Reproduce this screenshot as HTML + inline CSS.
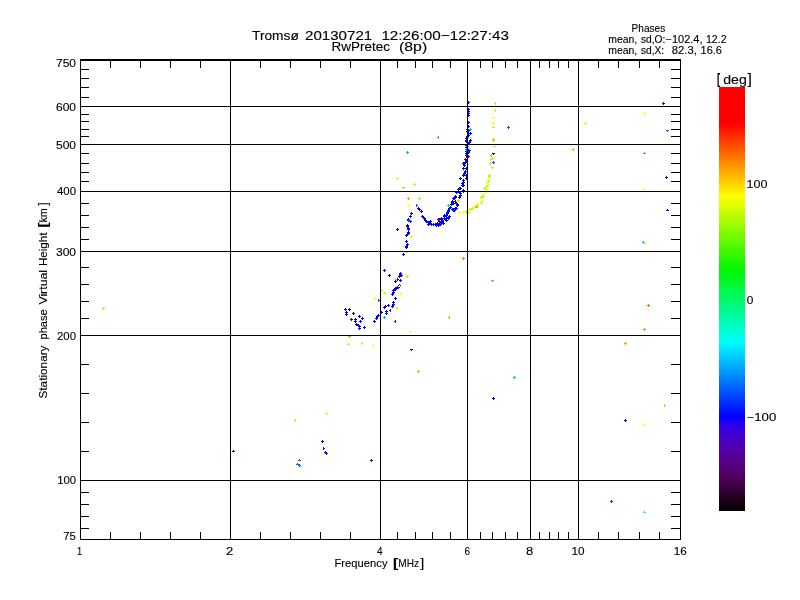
<!DOCTYPE html>
<html><head><meta charset="utf-8"><title>Tromsø stationary phase plot</title>
<style>html,body{margin:0;padding:0;background:#fff;}body{width:800px;height:600px;overflow:hidden;}svg{display:block;will-change:transform;}text{font-family:"Liberation Sans","DejaVu Sans",sans-serif;fill:#000;stroke:#000;stroke-width:0.12px;}</style></head><body>
<svg width="800" height="600" viewBox="0 0 800 600">
<rect x="0" y="0" width="800" height="600" fill="#ffffff"/>
<g>
<text x="252.00" y="40.00" font-size="12.6" textLength="46.81" lengthAdjust="spacingAndGlyphs">Tromsø</text>
<text x="305.00" y="40.00" font-size="12.6" textLength="67.24" lengthAdjust="spacingAndGlyphs">20130721</text>
<text x="381.40" y="40.00" font-size="12.6" textLength="127.65" lengthAdjust="spacingAndGlyphs">12:26:00−12:27:43</text>
<text x="331.60" y="51.40" font-size="12.6" textLength="58.45" lengthAdjust="spacingAndGlyphs">RwPretec</text>
<text x="399.00" y="51.40" font-size="12.6" textLength="28.17" lengthAdjust="spacingAndGlyphs">(8p)</text>
<text x="631.55" y="32.30" font-size="10.2" textLength="33.68" lengthAdjust="spacingAndGlyphs">Phases</text>
<text x="608.25" y="42.70" font-size="10.2" textLength="29.04" lengthAdjust="spacingAndGlyphs">mean,</text>
<text x="640.95" y="42.70" font-size="10.2" textLength="24.42" lengthAdjust="spacingAndGlyphs">sd,O:</text>
<text x="665.45" y="42.70" font-size="10.2" textLength="37.12" lengthAdjust="spacingAndGlyphs">−102.4,</text>
<text x="706.00" y="42.70" font-size="10.2" textLength="20.50" lengthAdjust="spacingAndGlyphs">12.2</text>
<text x="608.25" y="53.50" font-size="10.2" textLength="29.04" lengthAdjust="spacingAndGlyphs">mean,</text>
<text x="640.95" y="53.50" font-size="10.2" textLength="23.17" lengthAdjust="spacingAndGlyphs">sd,X:</text>
<text x="671.80" y="53.50" font-size="10.2" textLength="25.00" lengthAdjust="spacingAndGlyphs">82.3,</text>
<text x="700.55" y="53.50" font-size="10.2" textLength="21.40" lengthAdjust="spacingAndGlyphs">16.6</text>
<text x="717.00" y="84.40" font-size="15.3" textLength="3.18" lengthAdjust="spacingAndGlyphs" font-weight="bold">[</text>
<text x="723.25" y="84.40" font-size="12.6" textLength="23.58" lengthAdjust="spacingAndGlyphs">deg</text>
<text x="747.50" y="84.40" font-size="15.3" textLength="4.37" lengthAdjust="spacingAndGlyphs">]</text>
<text x="56.00" y="67.00" font-size="10.8" textLength="20.06" lengthAdjust="spacingAndGlyphs">750</text>
<text x="56.00" y="111.00" font-size="10.8" textLength="20.06" lengthAdjust="spacingAndGlyphs">600</text>
<text x="56.00" y="149.00" font-size="10.8" textLength="20.06" lengthAdjust="spacingAndGlyphs">500</text>
<text x="57.00" y="195.00" font-size="10.8" textLength="19.00" lengthAdjust="spacingAndGlyphs">400</text>
<text x="56.00" y="255.50" font-size="10.8" textLength="20.06" lengthAdjust="spacingAndGlyphs">300</text>
<text x="57.00" y="340.00" font-size="10.8" textLength="19.00" lengthAdjust="spacingAndGlyphs">200</text>
<text x="57.20" y="484.00" font-size="10.8" textLength="18.87" lengthAdjust="spacingAndGlyphs">100</text>
<text x="63.25" y="540.00" font-size="10.8" textLength="12.61" lengthAdjust="spacingAndGlyphs">75</text>
<text x="77.00" y="555.00" font-size="10.8" textLength="5.15" lengthAdjust="spacingAndGlyphs">1</text>
<text x="226.00" y="555.00" font-size="10.8" textLength="7.27" lengthAdjust="spacingAndGlyphs">2</text>
<text x="377.00" y="555.00" font-size="10.8" textLength="5.55" lengthAdjust="spacingAndGlyphs">4</text>
<text x="464.50" y="555.00" font-size="10.8" textLength="5.55" lengthAdjust="spacingAndGlyphs">6</text>
<text x="526.00" y="555.00" font-size="10.8" textLength="7.27" lengthAdjust="spacingAndGlyphs">8</text>
<text x="571.50" y="555.00" font-size="10.8" textLength="13.09" lengthAdjust="spacingAndGlyphs">10</text>
<text x="673.75" y="555.00" font-size="10.8" textLength="13.09" lengthAdjust="spacingAndGlyphs">16</text>
<text x="334.50" y="567.00" font-size="10.8" textLength="53.02" lengthAdjust="spacingAndGlyphs">Frequency</text>
<text x="393.00" y="567.30" font-size="12.7" textLength="5.33" lengthAdjust="spacingAndGlyphs" font-weight="bold">[</text>
<text x="398.30" y="567.00" font-size="10.8" textLength="20.74" lengthAdjust="spacingAndGlyphs">MHz</text>
<text x="420.30" y="567.30" font-size="12.7" textLength="3.99" lengthAdjust="spacingAndGlyphs">]</text>
<text x="746.55" y="188.00" font-size="10.8" textLength="20.86" lengthAdjust="spacingAndGlyphs">100</text>
<text x="746.70" y="304.00" font-size="10.8" textLength="6.62" lengthAdjust="spacingAndGlyphs">0</text>
<text x="746.55" y="421.00" font-size="10.8" textLength="29.79" lengthAdjust="spacingAndGlyphs">−100</text>
<text transform="translate(47.00,398.50) rotate(-90)" font-size="10.8" textLength="53.01" lengthAdjust="spacingAndGlyphs">Stationary</text>
<text transform="translate(47.00,339.50) rotate(-90)" font-size="10.8" textLength="30.16" lengthAdjust="spacingAndGlyphs">phase</text>
<text transform="translate(47.00,304.60) rotate(-90)" font-size="10.8" textLength="34.67" lengthAdjust="spacingAndGlyphs">Virtual</text>
<text transform="translate(47.00,266.00) rotate(-90)" font-size="10.8" textLength="33.46" lengthAdjust="spacingAndGlyphs">Height</text>
<text transform="translate(47.30,227.50) rotate(-90)" font-size="12.7" textLength="4.83" lengthAdjust="spacingAndGlyphs" font-weight="bold">[</text>
<text transform="translate(47.00,222.50) rotate(-90)" font-size="10.8" textLength="14.30" lengthAdjust="spacingAndGlyphs">km</text>
<text transform="translate(47.30,205.50) rotate(-90)" font-size="12.7" textLength="3.00" lengthAdjust="spacingAndGlyphs">]</text>
</g>
<defs><linearGradient id="cb" x1="0" y1="87" x2="0" y2="511" gradientUnits="userSpaceOnUse">
<stop offset="0.0000" stop-color="rgb(255,0,0)"/>
<stop offset="0.0849" stop-color="rgb(255,0,0)"/>
<stop offset="0.1722" stop-color="rgb(255,128,0)"/>
<stop offset="0.2583" stop-color="rgb(255,255,0)"/>
<stop offset="0.4316" stop-color="rgb(0,246,0)"/>
<stop offset="0.6014" stop-color="rgb(0,255,255)"/>
<stop offset="0.7771" stop-color="rgb(0,0,255)"/>
<stop offset="0.7965" stop-color="rgb(43,0,236)"/>
<stop offset="0.8231" stop-color="rgb(68,0,204)"/>
<stop offset="0.8514" stop-color="rgb(83,0,173)"/>
<stop offset="0.8821" stop-color="rgb(87,0,136)"/>
<stop offset="0.9139" stop-color="rgb(80,0,100)"/>
<stop offset="0.9410" stop-color="rgb(64,0,68)"/>
<stop offset="0.9686" stop-color="rgb(36,0,32)"/>
<stop offset="1.0000" stop-color="rgb(0,0,0)"/>
</linearGradient></defs>
<rect x="719" y="87" width="26" height="424" fill="url(#cb)" shape-rendering="crispEdges"/>
<g shape-rendering="crispEdges">
<path d="M102 308h3v1h-3zM103 307h1v3h-1z" fill="#96ff00"/>
<path d="M233 450h1v1h-1zM232 451h3v1h-3z" fill="#0000ff"/>
<path d="M294 420h1v1h-1zM295 419h1v3h-1z" fill="#ffdc00"/>
<path d="M325 413h3v1h-3zM326 414h1v1h-1z" fill="#c8ff00"/>
<path d="M321 441h3v1h-3zM322 440h1v3h-1z" fill="#0000ff"/>
<path d="M323 447h1v3h-1zM324 448h1v1h-1z" fill="#3c00dc"/>
<path d="M324 452h3v1h-3zM325 451h1v3h-1z" fill="#3c00dc"/>
<path d="M325 453h3v1h-3zM326 452h1v3h-1z" fill="#3c00dc"/>
<path d="M370 460h3v1h-3zM371 459h1v3h-1z" fill="#5000c8"/>
<path d="M299 459h1v1h-1zM298 460h3v1h-3z" fill="#0064ff"/>
<path d="M297 463h1v1h-1zM296 464h3v1h-3z" fill="#0064ff"/>
<path d="M298 465h3v1h-3zM299 464h1v3h-1z" fill="#0064ff"/>
<path d="M344 309h3v1h-3zM345 308h1v3h-1z" fill="#0000ff"/>
<path d="M348 309h3v1h-3zM349 308h1v3h-1z" fill="#0000ff"/>
<path d="M345 312h3v1h-3zM346 311h1v3h-1z" fill="#0000ff"/>
<path d="M345 314h3v1h-3zM346 313h1v3h-1z" fill="#0000ff"/>
<path d="M352 313h3v1h-3zM353 312h1v3h-1z" fill="#0000ff"/>
<path d="M358 316h3v1h-3zM359 315h1v3h-1z" fill="#0000ff"/>
<path d="M361 318h3v1h-3zM362 317h1v3h-1z" fill="#0000ff"/>
<path d="M350 319h3v1h-3zM351 318h1v3h-1z" fill="#0000ff"/>
<path d="M354 319h3v1h-3zM355 318h1v3h-1z" fill="#0000ff"/>
<path d="M354 321h3v1h-3zM355 320h1v3h-1z" fill="#0000ff"/>
<path d="M359 321h3v1h-3zM360 320h1v3h-1z" fill="#0000ff"/>
<path d="M355 324h3v1h-3zM356 323h1v3h-1z" fill="#0000ff"/>
<path d="M357 325h3v1h-3zM358 324h1v3h-1z" fill="#0000ff"/>
<path d="M358 326h3v1h-3zM359 325h1v3h-1z" fill="#0000ff"/>
<path d="M358 328h3v1h-3zM359 327h1v3h-1z" fill="#0000ff"/>
<path d="M363 327h3v1h-3zM364 326h1v3h-1z" fill="#0000ff"/>
<path d="M373 321h3v1h-3zM374 320h1v3h-1z" fill="#0000ff"/>
<path d="M375 318h3v1h-3zM376 317h1v3h-1z" fill="#0000ff"/>
<path d="M376 316h3v1h-3zM377 315h1v3h-1z" fill="#0000ff"/>
<path d="M377 315h3v1h-3zM378 314h1v3h-1z" fill="#0000ff"/>
<path d="M380 312h3v1h-3zM381 311h1v3h-1z" fill="#0000ff"/>
<path d="M383 307h3v1h-3zM384 306h1v3h-1z" fill="#0000ff"/>
<path d="M384 306h3v1h-3zM385 305h1v3h-1z" fill="#0000ff"/>
<path d="M387 305h3v1h-3zM388 304h1v3h-1z" fill="#0000ff"/>
<path d="M385 311h3v1h-3zM386 310h1v3h-1z" fill="#0000ff"/>
<path d="M385 313h3v1h-3zM386 312h1v3h-1z" fill="#0000ff"/>
<path d="M392 302h3v1h-3zM393 301h1v3h-1z" fill="#0000ff"/>
<path d="M392 304h3v1h-3zM393 303h1v3h-1z" fill="#0000ff"/>
<path d="M391 306h3v1h-3zM392 305h1v3h-1z" fill="#0000ff"/>
<path d="M394 298h3v1h-3zM395 297h1v3h-1z" fill="#0000ff"/>
<path d="M391 294h3v1h-3zM392 293h1v3h-1z" fill="#0000ff"/>
<path d="M392 292h3v1h-3zM393 291h1v3h-1z" fill="#0000ff"/>
<path d="M392 290h3v1h-3zM393 289h1v3h-1z" fill="#0000ff"/>
<path d="M394 289h3v1h-3zM395 288h1v3h-1z" fill="#0000ff"/>
<path d="M396 287h3v1h-3zM397 286h1v3h-1z" fill="#0000ff"/>
<path d="M397 286h3v1h-3zM398 285h1v3h-1z" fill="#0000ff"/>
<path d="M410 349h3v1h-3zM411 350h1v1h-1z" fill="#0000ff"/>
<path d="M378 299h1v3h-1zM379 300h1v1h-1z" fill="#0064ff"/>
<path d="M383 317h3v1h-3zM384 316h1v3h-1z" fill="#00aaff"/>
<path d="M389 310h1v1h-1zM390 309h1v3h-1z" fill="#5000c8"/>
<path d="M394 321h1v1h-1zM395 320h1v3h-1z" fill="#5000c8"/>
<path d="M373 298h3v1h-3zM374 297h1v3h-1z" fill="#ffff00"/>
<path d="M399 293h3v1h-3zM400 292h1v3h-1z" fill="#ffff00"/>
<path d="M410 331h1v1h-1zM409 332h3v1h-3z" fill="#ffff00"/>
<path d="M372 345h1v1h-1zM373 344h1v3h-1z" fill="#ffff00"/>
<path d="M380 290h3v1h-3zM381 291h1v1h-1z" fill="#b4ff00"/>
<path d="M384 292h1v1h-1zM383 293h3v1h-3z" fill="#b4ff00"/>
<path d="M397 307h1v1h-1zM396 308h3v1h-3z" fill="#b4ff00"/>
<path d="M348 336h3v1h-3zM349 337h1v1h-1z" fill="#96e600"/>
<path d="M348 343h1v1h-1zM347 344h3v1h-3z" fill="#b4ff00"/>
<path d="M361 343h1v1h-1zM362 342h1v3h-1z" fill="#b4ff00"/>
<path d="M409 216h3v1h-3zM410 215h1v3h-1z" fill="#0000ff"/>
<path d="M407 220h3v1h-3zM408 219h1v3h-1z" fill="#0000ff"/>
<path d="M409 221h3v1h-3zM410 220h1v3h-1z" fill="#0000ff"/>
<path d="M406 226h3v1h-3zM407 225h1v3h-1z" fill="#0000ff"/>
<path d="M407 228h3v1h-3zM408 227h1v3h-1z" fill="#0000ff"/>
<path d="M407 229h3v1h-3zM408 228h1v3h-1z" fill="#0000ff"/>
<path d="M396 229h3v1h-3zM397 228h1v3h-1z" fill="#0000ff"/>
<path d="M407 233h3v1h-3zM408 232h1v3h-1z" fill="#0000ff"/>
<path d="M406 234h3v1h-3zM407 233h1v3h-1z" fill="#0000ff"/>
<path d="M405 235h3v1h-3zM406 234h1v3h-1z" fill="#0000ff"/>
<path d="M405 241h3v1h-3zM406 240h1v3h-1z" fill="#0000ff"/>
<path d="M406 244h3v1h-3zM407 243h1v3h-1z" fill="#0000ff"/>
<path d="M405 246h3v1h-3zM406 245h1v3h-1z" fill="#0000ff"/>
<path d="M405 247h3v1h-3zM406 246h1v3h-1z" fill="#0000ff"/>
<path d="M402 254h3v1h-3zM403 253h1v3h-1z" fill="#0000ff"/>
<path d="M383 270h3v1h-3zM384 269h1v3h-1z" fill="#0000ff"/>
<path d="M388 275h3v1h-3zM389 274h1v3h-1z" fill="#0000ff"/>
<path d="M399 273h3v1h-3zM400 272h1v3h-1z" fill="#0000ff"/>
<path d="M399 274h3v1h-3zM400 273h1v3h-1z" fill="#0000ff"/>
<path d="M398 276h3v1h-3zM399 275h1v3h-1z" fill="#0000ff"/>
<path d="M396 279h3v1h-3zM397 278h1v3h-1z" fill="#0000ff"/>
<path d="M399 280h3v1h-3zM400 279h1v3h-1z" fill="#0000ff"/>
<path d="M394 281h3v1h-3zM395 280h1v3h-1z" fill="#0000ff"/>
<path d="M398 285h3v1h-3zM399 284h1v3h-1z" fill="#0000ff"/>
<path d="M397 287h3v1h-3zM398 286h1v3h-1z" fill="#0000ff"/>
<path d="M394 288h3v1h-3zM395 287h1v3h-1z" fill="#0000ff"/>
<path d="M394 289h3v1h-3zM395 288h1v3h-1z" fill="#0000ff"/>
<path d="M400 275h3v1h-3zM401 274h1v3h-1z" fill="#5000c8"/>
<path d="M410 236h3v1h-3zM411 235h1v3h-1z" fill="#ffff00"/>
<path d="M406 276h3v1h-3zM407 275h1v3h-1z" fill="#ffd200"/>
<path d="M406 251h1v1h-1zM405 252h3v1h-3z" fill="#b4ff00"/>
<path d="M395 278h1v1h-1zM394 279h3v1h-3z" fill="#b4ff00"/>
<path d="M399 285h1v1h-1zM398 286h3v1h-3z" fill="#ffff00"/>
<path d="M462 258h3v1h-3zM463 257h1v3h-1z" fill="#ff7800"/>
<path d="M417 208h3v1h-3zM418 207h1v3h-1z" fill="#0000ff"/>
<path d="M420 211h3v1h-3zM421 210h1v3h-1z" fill="#0000ff"/>
<path d="M418 209h3v1h-3zM419 208h1v3h-1z" fill="#0000ff"/>
<path d="M421 216h3v1h-3zM422 215h1v3h-1z" fill="#0000ff"/>
<path d="M422 217h3v1h-3zM423 216h1v3h-1z" fill="#0000ff"/>
<path d="M423 218h3v1h-3zM424 217h1v3h-1z" fill="#0000ff"/>
<path d="M424 220h3v1h-3zM425 219h1v3h-1z" fill="#0000ff"/>
<path d="M425 221h3v1h-3zM426 220h1v3h-1z" fill="#0000ff"/>
<path d="M427 222h3v1h-3zM428 221h1v3h-1z" fill="#0000ff"/>
<path d="M429 221h3v1h-3zM430 220h1v3h-1z" fill="#0000ff"/>
<path d="M428 223h3v1h-3zM429 222h1v3h-1z" fill="#0000ff"/>
<path d="M427 224h3v1h-3zM428 223h1v3h-1z" fill="#0000ff"/>
<path d="M430 224h3v1h-3zM431 223h1v3h-1z" fill="#0000ff"/>
<path d="M432 224h3v1h-3zM433 223h1v3h-1z" fill="#0000ff"/>
<path d="M434 224h3v1h-3zM435 223h1v3h-1z" fill="#0000ff"/>
<path d="M436 223h3v1h-3zM437 222h1v3h-1z" fill="#0000ff"/>
<path d="M437 225h3v1h-3zM438 224h1v3h-1z" fill="#0000ff"/>
<path d="M442 223h3v1h-3zM443 222h1v3h-1z" fill="#0000ff"/>
<path d="M440 218h3v1h-3zM441 217h1v3h-1z" fill="#0000ff"/>
<path d="M441 221h3v1h-3zM442 220h1v3h-1z" fill="#0000ff"/>
<path d="M443 216h3v1h-3zM444 215h1v3h-1z" fill="#0000ff"/>
<path d="M444 219h3v1h-3zM445 218h1v3h-1z" fill="#0000ff"/>
<path d="M445 218h3v1h-3zM446 217h1v3h-1z" fill="#0000ff"/>
<path d="M447 217h3v1h-3zM448 216h1v3h-1z" fill="#0000ff"/>
<path d="M448 216h3v1h-3zM449 215h1v3h-1z" fill="#0000ff"/>
<path d="M446 213h3v1h-3zM447 212h1v3h-1z" fill="#0000ff"/>
<path d="M447 211h3v1h-3zM448 210h1v3h-1z" fill="#0000ff"/>
<path d="M448 208h3v1h-3zM449 207h1v3h-1z" fill="#0000ff"/>
<path d="M451 209h3v1h-3zM452 208h1v3h-1z" fill="#0000ff"/>
<path d="M454 208h3v1h-3zM455 207h1v3h-1z" fill="#0000ff"/>
<path d="M453 210h3v1h-3zM454 209h1v3h-1z" fill="#0000ff"/>
<path d="M450 204h3v1h-3zM451 203h1v3h-1z" fill="#0000ff"/>
<path d="M451 202h3v1h-3zM452 201h1v3h-1z" fill="#0000ff"/>
<path d="M454 196h3v1h-3zM455 195h1v3h-1z" fill="#0000ff"/>
<path d="M456 204h3v1h-3zM457 203h1v3h-1z" fill="#0000ff"/>
<path d="M462 185h3v1h-3zM463 184h1v3h-1z" fill="#0000ff"/>
<path d="M457 189h3v1h-3zM458 188h1v3h-1z" fill="#0000ff"/>
<path d="M459 188h3v1h-3zM460 187h1v3h-1z" fill="#0000ff"/>
<path d="M462 190h3v1h-3zM463 189h1v3h-1z" fill="#0000ff"/>
<path d="M455 192h3v1h-3zM456 191h1v3h-1z" fill="#0000ff"/>
<path d="M458 192h3v1h-3zM459 191h1v3h-1z" fill="#0000ff"/>
<path d="M462 191h3v1h-3zM463 190h1v3h-1z" fill="#0000ff"/>
<path d="M459 195h3v1h-3zM460 194h1v3h-1z" fill="#0000ff"/>
<path d="M459 193h3v1h-3zM460 192h1v3h-1z" fill="#0000ff"/>
<path d="M454 197h3v1h-3zM455 196h1v3h-1z" fill="#0000ff"/>
<path d="M458 197h3v1h-3zM459 196h1v3h-1z" fill="#0000ff"/>
<path d="M451 201h3v1h-3zM452 200h1v3h-1z" fill="#0000ff"/>
<path d="M454 201h3v1h-3zM455 200h1v3h-1z" fill="#0000ff"/>
<path d="M450 204h3v1h-3zM451 203h1v3h-1z" fill="#0000ff"/>
<path d="M452 203h3v1h-3zM453 202h1v3h-1z" fill="#0000ff"/>
<path d="M456 205h3v1h-3zM457 204h1v3h-1z" fill="#0000ff"/>
<path d="M449 207h3v1h-3zM450 206h1v3h-1z" fill="#0000ff"/>
<path d="M452 209h3v1h-3zM453 208h1v3h-1z" fill="#0000ff"/>
<path d="M454 209h3v1h-3zM455 208h1v3h-1z" fill="#0000ff"/>
<path d="M455 208h3v1h-3zM456 207h1v3h-1z" fill="#0000ff"/>
<path d="M447 210h3v1h-3zM448 209h1v3h-1z" fill="#0000ff"/>
<path d="M452 210h3v1h-3zM453 209h1v3h-1z" fill="#0000ff"/>
<path d="M446 212h3v1h-3zM447 211h1v3h-1z" fill="#0000ff"/>
<path d="M443 215h3v1h-3zM444 214h1v3h-1z" fill="#0000ff"/>
<path d="M445 215h3v1h-3zM446 214h1v3h-1z" fill="#0000ff"/>
<path d="M448 216h3v1h-3zM449 215h1v3h-1z" fill="#0000ff"/>
<path d="M440 218h3v1h-3zM441 217h1v3h-1z" fill="#0000ff"/>
<path d="M443 218h3v1h-3zM444 217h1v3h-1z" fill="#0000ff"/>
<path d="M447 218h3v1h-3zM448 217h1v3h-1z" fill="#0000ff"/>
<path d="M441 220h3v1h-3zM442 219h1v3h-1z" fill="#0000ff"/>
<path d="M445 220h3v1h-3zM446 219h1v3h-1z" fill="#0000ff"/>
<path d="M436 224h3v1h-3zM437 223h1v3h-1z" fill="#0000ff"/>
<path d="M440 222h3v1h-3zM441 221h1v3h-1z" fill="#0000ff"/>
<path d="M442 223h3v1h-3zM443 222h1v3h-1z" fill="#0000ff"/>
<path d="M437 225h3v1h-3zM438 224h1v3h-1z" fill="#0000ff"/>
<path d="M439 224h3v1h-3zM440 223h1v3h-1z" fill="#0000ff"/>
<path d="M435 225h3v1h-3zM436 224h1v3h-1z" fill="#0000ff"/>
<path d="M438 221h3v1h-3zM439 220h1v3h-1z" fill="#0000ff"/>
<path d="M466 146h3v1h-3zM467 145h1v3h-1z" fill="#0000ff"/>
<path d="M465 151h3v1h-3zM466 150h1v3h-1z" fill="#0000ff"/>
<path d="M468 150h3v1h-3zM469 149h1v3h-1z" fill="#0000ff"/>
<path d="M465 155h3v1h-3zM466 154h1v3h-1z" fill="#0000ff"/>
<path d="M464 159h3v1h-3zM465 158h1v3h-1z" fill="#0000ff"/>
<path d="M465 160h3v1h-3zM466 159h1v3h-1z" fill="#0000ff"/>
<path d="M462 163h3v1h-3zM463 162h1v3h-1z" fill="#0000ff"/>
<path d="M462 168h3v1h-3zM463 167h1v3h-1z" fill="#0000ff"/>
<path d="M465 168h3v1h-3zM466 167h1v3h-1z" fill="#0000ff"/>
<path d="M462 175h3v1h-3zM463 174h1v3h-1z" fill="#0000ff"/>
<path d="M465 175h3v1h-3zM466 174h1v3h-1z" fill="#0000ff"/>
<path d="M459 178h3v1h-3zM460 177h1v3h-1z" fill="#0000ff"/>
<path d="M465 178h3v1h-3zM466 177h1v3h-1z" fill="#0000ff"/>
<path d="M462 180h3v1h-3zM463 179h1v3h-1z" fill="#0000ff"/>
<path d="M462 182h3v1h-3zM463 181h1v3h-1z" fill="#0000ff"/>
<path d="M461 185h3v1h-3zM462 184h1v3h-1z" fill="#0000ff"/>
<path d="M458 188h3v1h-3zM459 187h1v3h-1z" fill="#0000ff"/>
<path d="M459 188h3v1h-3zM460 187h1v3h-1z" fill="#0000ff"/>
<path d="M452 198h3v1h-3zM453 197h1v3h-1z" fill="#3c00c8"/>
<path d="M455 203h3v1h-3zM456 202h1v3h-1z" fill="#3c00c8"/>
<path d="M437 219h3v1h-3zM438 218h1v3h-1z" fill="#3c00c8"/>
<path d="M439 223h3v1h-3zM440 222h1v3h-1z" fill="#3c00c8"/>
<path d="M438 219h3v1h-3zM439 218h1v3h-1z" fill="#3c00c8"/>
<path d="M453 198h3v1h-3zM454 197h1v3h-1z" fill="#3c00c8"/>
<path d="M467 156h3v1h-3zM468 155h1v3h-1z" fill="#3c00c8"/>
<path d="M416 204h1v3h-1zM417 205h1v1h-1z" fill="#0064ff"/>
<path d="M447 205h3v1h-3zM448 204h1v3h-1z" fill="#00ff00"/>
<path d="M458 199h1v1h-1zM457 200h3v1h-3z" fill="#b4ff00"/>
<path d="M456 201h3v1h-3zM457 200h1v3h-1z" fill="#b4ff00"/>
<path d="M410 213h3v1h-3zM411 212h1v3h-1z" fill="#0000ff"/>
<path d="M409 216h3v1h-3zM410 215h1v3h-1z" fill="#0000ff"/>
<path d="M407 219h3v1h-3zM408 218h1v3h-1z" fill="#0000ff"/>
<path d="M409 221h3v1h-3zM410 220h1v3h-1z" fill="#0000ff"/>
<path d="M406 225h3v1h-3zM407 224h1v3h-1z" fill="#0000ff"/>
<path d="M407 228h3v1h-3zM408 227h1v3h-1z" fill="#0000ff"/>
<path d="M407 232h3v1h-3zM408 231h1v3h-1z" fill="#0000ff"/>
<path d="M405 235h3v1h-3zM406 234h1v3h-1z" fill="#0000ff"/>
<path d="M406 234h3v1h-3zM407 233h1v3h-1z" fill="#0000ff"/>
<path d="M407 229h3v1h-3zM408 228h1v3h-1z" fill="#3c00c8"/>
<path d="M408 220h3v1h-3zM409 219h1v3h-1z" fill="#0064ff"/>
<path d="M406 152h3v1h-3zM407 151h1v3h-1z" fill="#00aaff"/>
<path d="M396 178h3v1h-3zM397 179h1v1h-1z" fill="#ffdc00"/>
<path d="M402 187h3v1h-3zM403 188h1v1h-1z" fill="#ffbe00"/>
<path d="M413 184h3v1h-3zM414 183h1v3h-1z" fill="#b4ff00"/>
<path d="M407 198h3v1h-3zM408 197h1v3h-1z" fill="#ff9600"/>
<path d="M418 198h3v1h-3zM419 197h1v3h-1z" fill="#a0ff00"/>
<path d="M407 205h3v1h-3zM408 204h1v3h-1z" fill="#ffff00"/>
<path d="M437 137h1v1h-1zM438 136h1v3h-1z" fill="#ff6400"/>
<path d="M467 102h3v1h-3zM468 101h1v3h-1z" fill="#0000ff"/>
<path d="M467 109h3v1h-3zM468 108h1v3h-1z" fill="#0000ff"/>
<path d="M467 111h3v1h-3zM468 110h1v3h-1z" fill="#0000ff"/>
<path d="M467 113h3v1h-3zM468 112h1v3h-1z" fill="#0000ff"/>
<path d="M467 115h3v1h-3zM468 114h1v3h-1z" fill="#0000ff"/>
<path d="M467 122h3v1h-3zM468 121h1v3h-1z" fill="#0000ff"/>
<path d="M467 126h3v1h-3zM468 125h1v3h-1z" fill="#0000ff"/>
<path d="M466 129h3v1h-3zM467 128h1v3h-1z" fill="#0000ff"/>
<path d="M467 133h3v1h-3zM468 132h1v3h-1z" fill="#0000ff"/>
<path d="M469 133h3v1h-3zM470 132h1v3h-1z" fill="#0000ff"/>
<path d="M465 140h3v1h-3zM466 139h1v3h-1z" fill="#0000ff"/>
<path d="M469 140h3v1h-3zM470 139h1v3h-1z" fill="#0000ff"/>
<path d="M465 145h3v1h-3zM466 144h1v3h-1z" fill="#0000ff"/>
<path d="M466 146h3v1h-3zM467 145h1v3h-1z" fill="#0000ff"/>
<path d="M466 136h3v1h-3zM467 135h1v3h-1z" fill="#0000ff"/>
<path d="M467 143h3v1h-3zM468 142h1v3h-1z" fill="#0000ff"/>
<path d="M466 148h3v1h-3zM467 147h1v3h-1z" fill="#0000ff"/>
<path d="M469 129h3v1h-3zM470 128h1v3h-1z" fill="#00c8ff"/>
<path d="M466 137h3v1h-3zM467 136h1v3h-1z" fill="#0078ff"/>
<path d="M470 137h1v1h-1zM469 138h3v1h-3z" fill="#b4ff00"/>
<path d="M468 148h1v1h-1zM469 147h1v3h-1z" fill="#b4ff00"/>
<path d="M466 164h3v1h-3zM467 163h1v3h-1z" fill="#b4ff00"/>
<path d="M458 199h1v1h-1zM457 200h3v1h-3z" fill="#b4ff00"/>
<path d="M459 211h1v1h-1zM458 212h3v1h-3z" fill="#ffff00"/>
<path d="M462 212h3v1h-3zM463 211h1v3h-1z" fill="#ffff00"/>
<path d="M465 211h3v1h-3zM466 210h1v3h-1z" fill="#b4ff00"/>
<path d="M466 213h3v1h-3zM467 212h1v3h-1z" fill="#b4ff00"/>
<path d="M467 212h3v1h-3zM468 211h1v3h-1z" fill="#b4ff00"/>
<path d="M469 209h3v1h-3zM470 208h1v3h-1z" fill="#b4ff00"/>
<path d="M471 208h3v1h-3zM472 207h1v3h-1z" fill="#b4ff00"/>
<path d="M473 206h3v1h-3zM474 205h1v3h-1z" fill="#ffff00"/>
<path d="M476 206h1v1h-1zM475 207h3v1h-3z" fill="#ff9600"/>
<path d="M476 203h3v1h-3zM477 202h1v3h-1z" fill="#ffff00"/>
<path d="M476 205h3v1h-3zM477 204h1v3h-1z" fill="#b4ff00"/>
<path d="M480 202h3v1h-3zM481 203h1v1h-1z" fill="#b4ff00"/>
<path d="M481 200h3v1h-3zM482 199h1v3h-1z" fill="#ffff00"/>
<path d="M480 197h3v1h-3zM481 196h1v3h-1z" fill="#b4ff00"/>
<path d="M482 196h3v1h-3zM483 195h1v3h-1z" fill="#b4ff00"/>
<path d="M482 194h3v1h-3zM483 193h1v3h-1z" fill="#ffff00"/>
<path d="M485 191h3v1h-3zM486 190h1v3h-1z" fill="#b4ff00"/>
<path d="M483 188h3v1h-3zM484 187h1v3h-1z" fill="#b4ff00"/>
<path d="M485 189h3v1h-3zM486 188h1v3h-1z" fill="#ffff00"/>
<path d="M487 185h3v1h-3zM488 184h1v3h-1z" fill="#ffff00"/>
<path d="M485 186h3v1h-3zM486 185h1v3h-1z" fill="#b4ff00"/>
<path d="M486 182h3v1h-3zM487 181h1v3h-1z" fill="#ffff00"/>
<path d="M487 181h3v1h-3zM488 180h1v3h-1z" fill="#b4ff00"/>
<path d="M488 178h3v1h-3zM489 177h1v3h-1z" fill="#ffff00"/>
<path d="M488 175h3v1h-3zM489 174h1v3h-1z" fill="#b4ff00"/>
<path d="M488 176h3v1h-3zM489 175h1v3h-1z" fill="#b4ff00"/>
<path d="M491 167h3v1h-3zM492 168h1v1h-1z" fill="#b4ff00"/>
<path d="M489 163h1v1h-1zM490 162h1v3h-1z" fill="#ffc800"/>
<path d="M492 162h3v1h-3zM493 161h1v3h-1z" fill="#0050ff"/>
<path d="M490 159h3v1h-3zM491 158h1v3h-1z" fill="#b4ff00"/>
<path d="M491 158h3v1h-3zM492 157h1v3h-1z" fill="#b4ff00"/>
<path d="M490 155h1v1h-1zM491 154h1v3h-1z" fill="#ff9600"/>
<path d="M492 153h3v1h-3zM493 154h1v1h-1z" fill="#0000dc"/>
<path d="M494 103h1v1h-1zM495 102h1v3h-1z" fill="#b4ff00"/>
<path d="M494 110h1v1h-1zM495 109h1v3h-1z" fill="#b4ff00"/>
<path d="M492 117h3v1h-3zM493 118h1v1h-1z" fill="#ffff00"/>
<path d="M492 123h3v1h-3zM493 122h1v3h-1z" fill="#ffff00"/>
<path d="M493 126h1v1h-1zM492 127h3v1h-3z" fill="#b4ff00"/>
<path d="M492 139h3v1h-3zM493 138h1v3h-1z" fill="#ffc800"/>
<path d="M492 140h3v1h-3zM493 139h1v3h-1z" fill="#ffc800"/>
<path d="M493 146h3v1h-3zM494 147h1v1h-1z" fill="#b4ff00"/>
<path d="M507 127h3v1h-3zM508 126h1v3h-1z" fill="#0050ff"/>
<path d="M662 103h3v1h-3zM663 102h1v3h-1z" fill="#0000ff"/>
<path d="M643 113h3v1h-3zM644 112h1v3h-1z" fill="#ffff00"/>
<path d="M584 123h3v1h-3zM585 122h1v3h-1z" fill="#dcff00"/>
<path d="M666 130h3v1h-3zM667 131h1v1h-1z" fill="#0078ff"/>
<path d="M572 149h1v1h-1zM573 148h1v3h-1z" fill="#ffaa00"/>
<path d="M644 152h1v1h-1zM643 153h3v1h-3z" fill="#ff6400"/>
<path d="M665 177h3v1h-3zM666 176h1v3h-1z" fill="#3c00dc"/>
<path d="M644 188h1v1h-1zM643 189h3v1h-3z" fill="#ffff00"/>
<path d="M667 209h1v1h-1zM666 210h3v1h-3z" fill="#0000ff"/>
<path d="M642 242h3v1h-3zM643 241h1v3h-1z" fill="#00aaff"/>
<path d="M644 242h1v1h-1zM643 243h3v1h-3z" fill="#b4ff00"/>
<path d="M647 305h3v1h-3zM648 304h1v3h-1z" fill="#ff6e00"/>
<path d="M643 329h3v1h-3zM644 328h1v3h-1z" fill="#ff8c00"/>
<path d="M624 343h3v1h-3zM625 342h1v3h-1z" fill="#ff9600"/>
<path d="M664 404h1v3h-1zM665 405h1v1h-1z" fill="#ffbe00"/>
<path d="M624 420h3v1h-3zM625 419h1v3h-1z" fill="#0000ff"/>
<path d="M643 424h3v1h-3zM644 425h1v1h-1z" fill="#ffff00"/>
<path d="M610 501h3v1h-3zM611 500h1v3h-1z" fill="#0032ff"/>
<path d="M644 511h1v1h-1zM643 512h3v1h-3z" fill="#00ffc8"/>
<path d="M491 280h3v1h-3zM492 281h1v1h-1z" fill="#ff7800"/>
<path d="M448 317h1v1h-1zM449 316h1v3h-1z" fill="#ffaa00"/>
<path d="M417 371h3v1h-3zM418 370h1v3h-1z" fill="#ffb400"/>
<path d="M513 377h3v1h-3zM514 376h1v3h-1z" fill="#00c8ff"/>
<path d="M492 398h3v1h-3zM493 397h1v3h-1z" fill="#0000ff"/>
<path d="M466 131h3v1h-3zM467 130h1v3h-1z" fill="#0000ff"/>
<path d="M467 135h3v1h-3zM468 134h1v3h-1z" fill="#0000ff"/>
<path d="M465 138h3v1h-3zM466 137h1v3h-1z" fill="#0000ff"/>
<path d="M468 142h3v1h-3zM469 141h1v3h-1z" fill="#0000ff"/>
<path d="M466 144h3v1h-3zM467 143h1v3h-1z" fill="#0000ff"/>
<path d="M465 147h3v1h-3zM466 146h1v3h-1z" fill="#0000ff"/>
<path d="M467 150h3v1h-3zM468 149h1v3h-1z" fill="#0000ff"/>
<path d="M465 153h3v1h-3zM466 152h1v3h-1z" fill="#0000ff"/>
<path d="M466 157h3v1h-3zM467 156h1v3h-1z" fill="#0000ff"/>
<path d="M464 162h3v1h-3zM465 161h1v3h-1z" fill="#0000ff"/>
<path d="M463 165h3v1h-3zM464 164h1v3h-1z" fill="#0000ff"/>
<path d="M464 171h3v1h-3zM465 170h1v3h-1z" fill="#0000ff"/>
<path d="M463 173h3v1h-3zM464 172h1v3h-1z" fill="#0000ff"/>
<path d="M461 183h3v1h-3zM462 182h1v3h-1z" fill="#0000ff"/>
<path d="M467 130h3v1h-3zM468 129h1v3h-1z" fill="#0000ff"/>
<path d="M465 141h3v1h-3zM466 140h1v3h-1z" fill="#0000ff"/>
<path d="M467 152h3v1h-3zM468 151h1v3h-1z" fill="#0000ff"/>
<path d="M465 149h3v1h-3zM466 148h1v3h-1z" fill="#0078ff"/>
<path d="M466 146h3v1h-3zM467 145h1v3h-1z" fill="#0078ff"/>
</g>
<g shape-rendering="crispEdges">
<rect x="80" y="59" width="601" height="2" fill="#000"/>
<rect x="80" y="539" width="601" height="1" fill="#000"/>
<rect x="80" y="59" width="1" height="481" fill="#000"/>
<rect x="680" y="59" width="1" height="481" fill="#000"/>
<rect x="80" y="106" width="601" height="1" fill="#000"/>
<rect x="80" y="144" width="601" height="1" fill="#000"/>
<rect x="80" y="191" width="601" height="1" fill="#000"/>
<rect x="80" y="251" width="601" height="1" fill="#000"/>
<rect x="80" y="335" width="601" height="1" fill="#000"/>
<rect x="80" y="480" width="601" height="1" fill="#000"/>
<rect x="230" y="59" width="1" height="481" fill="#000"/>
<rect x="380" y="59" width="1" height="481" fill="#000"/>
<rect x="467" y="59" width="1" height="481" fill="#000"/>
<rect x="530" y="59" width="1" height="481" fill="#000"/>
<rect x="578" y="59" width="1" height="481" fill="#000"/>
<rect x="80" y="69" width="9" height="1" fill="#000"/>
<rect x="671" y="69" width="10" height="1" fill="#000"/>
<rect x="80" y="78" width="9" height="1" fill="#000"/>
<rect x="671" y="78" width="10" height="1" fill="#000"/>
<rect x="80" y="87" width="9" height="1" fill="#000"/>
<rect x="671" y="87" width="10" height="1" fill="#000"/>
<rect x="80" y="97" width="9" height="1" fill="#000"/>
<rect x="671" y="97" width="10" height="1" fill="#000"/>
<rect x="80" y="114" width="9" height="1" fill="#000"/>
<rect x="671" y="114" width="10" height="1" fill="#000"/>
<rect x="80" y="121" width="9" height="1" fill="#000"/>
<rect x="671" y="121" width="10" height="1" fill="#000"/>
<rect x="80" y="129" width="9" height="1" fill="#000"/>
<rect x="671" y="129" width="10" height="1" fill="#000"/>
<rect x="80" y="136" width="9" height="1" fill="#000"/>
<rect x="671" y="136" width="10" height="1" fill="#000"/>
<rect x="80" y="153" width="9" height="1" fill="#000"/>
<rect x="671" y="153" width="10" height="1" fill="#000"/>
<rect x="80" y="163" width="9" height="1" fill="#000"/>
<rect x="671" y="163" width="10" height="1" fill="#000"/>
<rect x="80" y="172" width="9" height="1" fill="#000"/>
<rect x="671" y="172" width="10" height="1" fill="#000"/>
<rect x="80" y="181" width="9" height="1" fill="#000"/>
<rect x="671" y="181" width="10" height="1" fill="#000"/>
<rect x="80" y="203" width="9" height="1" fill="#000"/>
<rect x="671" y="203" width="10" height="1" fill="#000"/>
<rect x="80" y="215" width="9" height="1" fill="#000"/>
<rect x="671" y="215" width="10" height="1" fill="#000"/>
<rect x="80" y="227" width="9" height="1" fill="#000"/>
<rect x="671" y="227" width="10" height="1" fill="#000"/>
<rect x="80" y="239" width="9" height="1" fill="#000"/>
<rect x="671" y="239" width="10" height="1" fill="#000"/>
<rect x="80" y="267" width="9" height="1" fill="#000"/>
<rect x="671" y="267" width="10" height="1" fill="#000"/>
<rect x="80" y="284" width="9" height="1" fill="#000"/>
<rect x="671" y="284" width="10" height="1" fill="#000"/>
<rect x="80" y="301" width="9" height="1" fill="#000"/>
<rect x="671" y="301" width="10" height="1" fill="#000"/>
<rect x="80" y="318" width="9" height="1" fill="#000"/>
<rect x="671" y="318" width="10" height="1" fill="#000"/>
<rect x="80" y="364" width="9" height="1" fill="#000"/>
<rect x="671" y="364" width="10" height="1" fill="#000"/>
<rect x="80" y="393" width="9" height="1" fill="#000"/>
<rect x="671" y="393" width="10" height="1" fill="#000"/>
<rect x="80" y="422" width="9" height="1" fill="#000"/>
<rect x="671" y="422" width="10" height="1" fill="#000"/>
<rect x="80" y="451" width="9" height="1" fill="#000"/>
<rect x="671" y="451" width="10" height="1" fill="#000"/>
<rect x="80" y="492" width="9" height="1" fill="#000"/>
<rect x="671" y="492" width="10" height="1" fill="#000"/>
<rect x="80" y="504" width="9" height="1" fill="#000"/>
<rect x="671" y="504" width="10" height="1" fill="#000"/>
<rect x="80" y="516" width="9" height="1" fill="#000"/>
<rect x="671" y="516" width="10" height="1" fill="#000"/>
<rect x="80" y="528" width="9" height="1" fill="#000"/>
<rect x="671" y="528" width="10" height="1" fill="#000"/>
<rect x="110" y="59" width="1" height="9" fill="#000"/>
<rect x="110" y="532" width="1" height="8" fill="#000"/>
<rect x="140" y="59" width="1" height="9" fill="#000"/>
<rect x="140" y="532" width="1" height="8" fill="#000"/>
<rect x="170" y="59" width="1" height="9" fill="#000"/>
<rect x="170" y="532" width="1" height="8" fill="#000"/>
<rect x="200" y="59" width="1" height="9" fill="#000"/>
<rect x="200" y="532" width="1" height="8" fill="#000"/>
<rect x="260" y="59" width="1" height="9" fill="#000"/>
<rect x="260" y="532" width="1" height="8" fill="#000"/>
<rect x="290" y="59" width="1" height="9" fill="#000"/>
<rect x="290" y="532" width="1" height="8" fill="#000"/>
<rect x="320" y="59" width="1" height="9" fill="#000"/>
<rect x="320" y="532" width="1" height="8" fill="#000"/>
<rect x="350" y="59" width="1" height="9" fill="#000"/>
<rect x="350" y="532" width="1" height="8" fill="#000"/>
<rect x="397" y="59" width="1" height="9" fill="#000"/>
<rect x="397" y="532" width="1" height="8" fill="#000"/>
<rect x="415" y="59" width="1" height="9" fill="#000"/>
<rect x="415" y="532" width="1" height="8" fill="#000"/>
<rect x="432" y="59" width="1" height="9" fill="#000"/>
<rect x="432" y="532" width="1" height="8" fill="#000"/>
<rect x="450" y="59" width="1" height="9" fill="#000"/>
<rect x="450" y="532" width="1" height="8" fill="#000"/>
<rect x="480" y="59" width="1" height="9" fill="#000"/>
<rect x="480" y="532" width="1" height="8" fill="#000"/>
<rect x="492" y="59" width="1" height="9" fill="#000"/>
<rect x="492" y="532" width="1" height="8" fill="#000"/>
<rect x="505" y="59" width="1" height="9" fill="#000"/>
<rect x="505" y="532" width="1" height="8" fill="#000"/>
<rect x="517" y="59" width="1" height="9" fill="#000"/>
<rect x="517" y="532" width="1" height="8" fill="#000"/>
<rect x="539" y="59" width="1" height="9" fill="#000"/>
<rect x="539" y="532" width="1" height="8" fill="#000"/>
<rect x="549" y="59" width="1" height="9" fill="#000"/>
<rect x="549" y="532" width="1" height="8" fill="#000"/>
<rect x="558" y="59" width="1" height="9" fill="#000"/>
<rect x="558" y="532" width="1" height="8" fill="#000"/>
<rect x="568" y="59" width="1" height="9" fill="#000"/>
<rect x="568" y="532" width="1" height="8" fill="#000"/>
<rect x="598" y="59" width="1" height="9" fill="#000"/>
<rect x="598" y="532" width="1" height="8" fill="#000"/>
<rect x="618" y="59" width="1" height="9" fill="#000"/>
<rect x="618" y="532" width="1" height="8" fill="#000"/>
<rect x="639" y="59" width="1" height="9" fill="#000"/>
<rect x="639" y="532" width="1" height="8" fill="#000"/>
<rect x="659" y="59" width="1" height="9" fill="#000"/>
<rect x="659" y="532" width="1" height="8" fill="#000"/>
</g>
</svg></body></html>
